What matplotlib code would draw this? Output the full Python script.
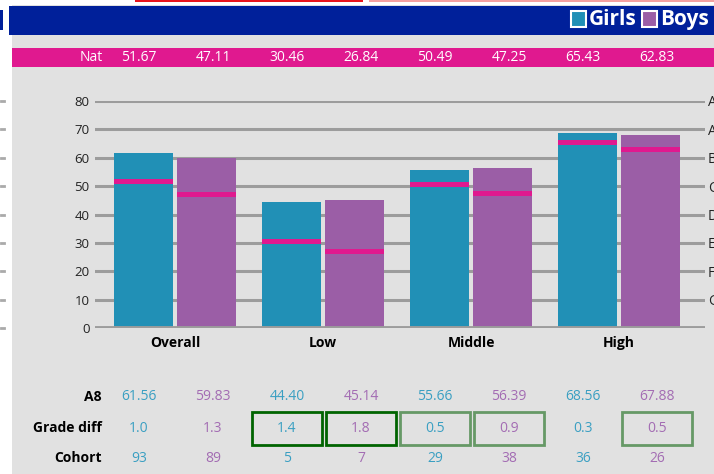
import matplotlib.pyplot as plt
from matplotlib.patches import Rectangle
import matplotlib.transforms as mtransforms

plt.rcParams['font.family'] = ['Open Sans', 'DejaVu Sans']

groups = ["Overall", "Low", "Middle", "High"]
girls_a8 = [61.56, 44.40, 55.66, 68.56]
boys_a8 = [59.83, 45.14, 56.39, 67.88]
girls_nat = [51.67, 30.46, 50.49, 65.43]
boys_nat = [47.11, 26.84, 47.25, 62.83]
girls_diff = ["1.0", "1.4", "0.5", "0.3"]
boys_diff = ["1.3", "1.8", "0.9", "0.5"]
girls_cohort = [93, 5, 29, 36]
boys_cohort = [89, 7, 38, 26]
# box style per column (girls, boys alternating)
diff_boxes = [None, None, "dark", "dark", "light", "light", None, "light"]
grades = ["G", "F", "E", "D", "C", "B", "A", "A*"]

girl_col = "#2190b6"
boy_col = "#9b5ea6"
girl_txt = "#3a9fc2"
boy_txt = "#a36cb3"
pink = "#e0198f"
navy = "#00209a"
bgc = "#e1e1e1"
grid = "#9c9c9c"

W, H = 714, 474
fig = plt.figure(figsize=(W / 100, H / 100), dpi=100)
fig.patch.set_facecolor("white")

# background axes in pixel coords
bg = fig.add_axes([0, 0, 1, 1])
bg.set_xlim(0, W)
bg.set_ylim(H, 0)
bg.axis("off")
bg.add_patch(Rectangle((12, 5), W, H, color=bgc, lw=0))
bg.add_patch(Rectangle((9, 6), W, 29, color=navy, lw=0))
bg.add_patch(Rectangle((12, 48), W, 19, color=pink, lw=0))
bg.add_patch(Rectangle((135, 0), 228, 1.5, color="#e8141c", lw=0))
bg.add_patch(Rectangle((369, 0), W, 1.5, color="#f4a0a0", lw=0))
bg.add_patch(Rectangle((0, 10), 2.5, 20, color=navy, lw=0))

# legend
bg.add_patch(Rectangle((571, 11), 15, 16, facecolor=girl_col, edgecolor="white", lw=1.5))
bg.text(589, 19, "Girls", color="white", fontsize=15, fontweight="bold", va="center", ha="left")
bg.add_patch(Rectangle((642, 11), 15, 16, facecolor=boy_col, edgecolor="white", lw=1.5))
bg.text(660, 19, "Boys", color="white", fontsize=15, fontweight="bold", va="center", ha="left")

# table columns
col_x = [139 + 74 * i for i in range(8)]
nat_vals = [v for pair in zip(girls_nat, boys_nat) for v in pair]
a8_vals = [v for pair in zip(girls_a8, boys_a8) for v in pair]
diff_vals = [v for pair in zip(girls_diff, boys_diff) for v in pair]
coh_vals = [v for pair in zip(girls_cohort, boys_cohort) for v in pair]

bg.text(103, 57, "Nat", color="white", fontsize=10, ha="right", va="center")
for i, x in enumerate(col_x):
    bg.text(x, 57, f"{nat_vals[i]:.2f}", color="white", fontsize=10, ha="center", va="center")
    c = girl_txt if i % 2 == 0 else boy_txt
    bg.text(x, 397, f"{a8_vals[i]:.2f}", color=c, fontsize=10, ha="center", va="center")
    bg.text(x, 428, diff_vals[i], color=c, fontsize=10, ha="center", va="center")
    bg.text(x, 458, str(coh_vals[i]), color=c, fontsize=10, ha="center", va="center")
    if diff_boxes[i]:
        ec = "#006400" if diff_boxes[i] == "dark" else "#669966"
        bg.add_patch(Rectangle((x - 35, 412), 70, 33, fill=False, edgecolor=ec, lw=2))

for y, lab in [(397, "A8"), (428, "Grade diff"), (458, "Cohort")]:
    bg.text(102, y, lab, color="black", fontsize=10, fontweight="bold", ha="right", va="center")

# main bar axes
ax = fig.add_axes([95 / W, (H - 328) / H, 610 / W, 227 / H])
ax.patch.set_alpha(0)
ax.set_xlim(-0.54, 3.58)
ax.set_ylim(0, 80)
for s in ax.spines.values():
    s.set_visible(False)

xs = list(range(len(groups)))
bw = 0.4
off = 0.212
for t in range(10, 90, 10):
    ax.axhline(t, color=grid, lw=2.2, zorder=0)
ax.axhline(0, color=grid, lw=3.5, zorder=3)

gx = [x - off for x in xs]
bx = [x + off for x in xs]
ax.bar(gx, girls_a8, width=bw, color=girl_col, zorder=1)
ax.bar(bx, boys_a8, width=bw, color=boy_col, zorder=1)
ax.bar(gx, [1.8] * 4, bottom=[v - 0.9 for v in girls_nat], width=bw, color=pink, zorder=2)
ax.bar(bx, [1.8] * 4, bottom=[v - 0.9 for v in boys_nat], width=bw, color=pink, zorder=2)

ax.set_yticks(range(0, 90, 10))
ax.tick_params(axis="y", length=0, pad=4, labelsize=9.5, labelcolor="#222222")
ax.set_xticks(xs)
ax.set_xticklabels(groups, fontweight="bold", fontsize=10)
ax.tick_params(axis="x", length=0, pad=5.5)

ax2 = ax.twinx()
ax2.set_ylim(0, 80)
for s in ax2.spines.values():
    s.set_visible(False)
ax2.set_yticks(range(10, 90, 10))
ax2.set_yticklabels(grades)
ax2.tick_params(axis="y", length=0, pad=2, labelsize=10, labelcolor="#222222")

# little marks at left edge
tr = mtransforms.blended_transform_factory(fig.transFigure, ax.transData)
for t in range(0, 90, 10):
    ax.plot([1 / W, 4 / W], [t, t], transform=tr, color="#aaaaaa", lw=2, clip_on=False)

fig.savefig("out.png", dpi=100, facecolor=fig.get_facecolor())
